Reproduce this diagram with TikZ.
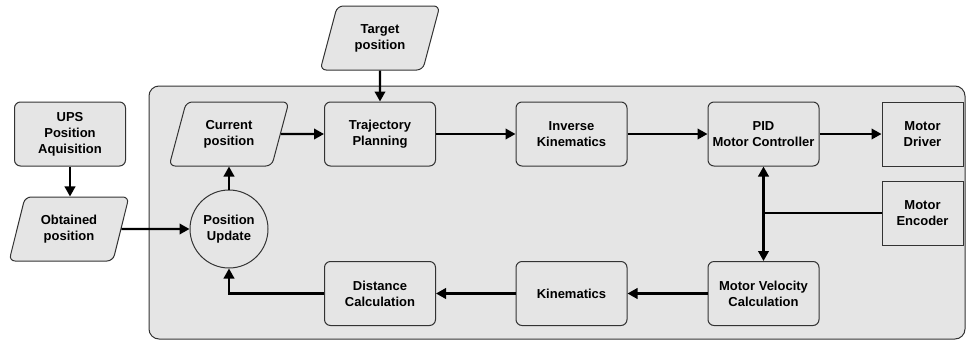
\documentclass[tikz,border=0pt]{standalone}
\usepackage{fontspec}
\setmainfont{Liberation Sans}
\usetikzlibrary{arrows.meta,shapes.geometric}
\definecolor{boxfill}{HTML}{E5E5E5}
\definecolor{edgecol}{HTML}{333333}
\begin{document}
\begin{tikzpicture}[x=1pt,y=-1pt,
 font=\fontsize{13}{16}\selectfont\bfseries,
 blk/.style={draw=edgecol, line width=1pt, fill=boxfill, rounded corners=6pt, minimum width=111pt, minimum height=64pt, align=center, inner sep=0pt},
 sq/.style={draw=edgecol, line width=1pt, fill=boxfill, minimum width=81pt, minimum height=64pt, align=center, inner sep=0pt},
 para/.style={trapezium, trapezium left angle=70, trapezium right angle=110, trapezium stretches=true, draw=edgecol, line width=1pt, fill=boxfill, rounded corners=6pt, minimum width=120pt, minimum height=64pt, align=center, inner sep=0pt},
 circ/.style={circle, draw=edgecol, line width=1pt, fill=boxfill, minimum size=78pt, align=center, inner sep=0pt},
 frame/.style={draw=edgecol, line width=1pt, fill=boxfill, rounded corners=10pt, minimum width=816pt, minimum height=253pt, inner sep=0pt},
 arr/.style={line width=2.2pt, -{Triangle[length=10pt,width=10.5pt]}},
 darr/.style={line width=2.2pt, {Triangle[length=10pt,width=10.5pt]}-{Triangle[length=10pt,width=10.5pt]}},
 plain/.style={line width=2.2pt},
]
\useasboundingbox (0,0) rectangle (967,341);
\node[frame] (box) at (557,212.5) {};
\node[blk] (ups) at (70,134) {UPS\\Position\\Aquisition};
\node[para] (obt) at (69,229) {Obtained\\position};
\node[para] (cur) at (229,134) {Current\\position};
\node[circ] (pu) at (229,229) {Position\\Update};
\node[para] (tgt) at (380,38) {Target\\position};
\node[blk] (traj) at (380,134) {Trajectory\\Planning};
\node[blk] (ik) at (571.5,134) {Inverse\\Kinematics};
\node[blk] (pid) at (763.5,134) {PID\\Motor Controller};
\node[sq] (drv) at (922.5,134) {Motor\\Driver};
\node[sq] (enc) at (922.5,213) {Motor\\Encoder};
\node[blk] (mvc) at (763.5,293.5) {Motor Velocity\\Calculation};
\node[blk] (kin) at (571.5,293.5) {Kinematics};
\node[blk] (dist) at (380,293.5) {Distance\\Calculation};
\draw[arr] (ups.south) -- (ups.south |- obt.north);
\draw[arr] (obt.east) -- (pu.west);
\draw[arr] (pu) -- (cur);
\draw[arr] (cur.east) -- (traj.west);
\draw[arr] (tgt) -- (traj);
\draw[arr] (traj) -- (ik);
\draw[arr] (ik) -- (pid);
\draw[arr] (pid) -- (drv);
\draw[darr] (pid) -- (mvc);
\draw[plain] (enc.west) -- (enc.west -| pid.south);
\draw[arr] (mvc) -- (kin);
\draw[arr] (kin) -- (dist);
\draw[arr] (dist.west) -| (pu.south);
\end{tikzpicture}
\end{document}
